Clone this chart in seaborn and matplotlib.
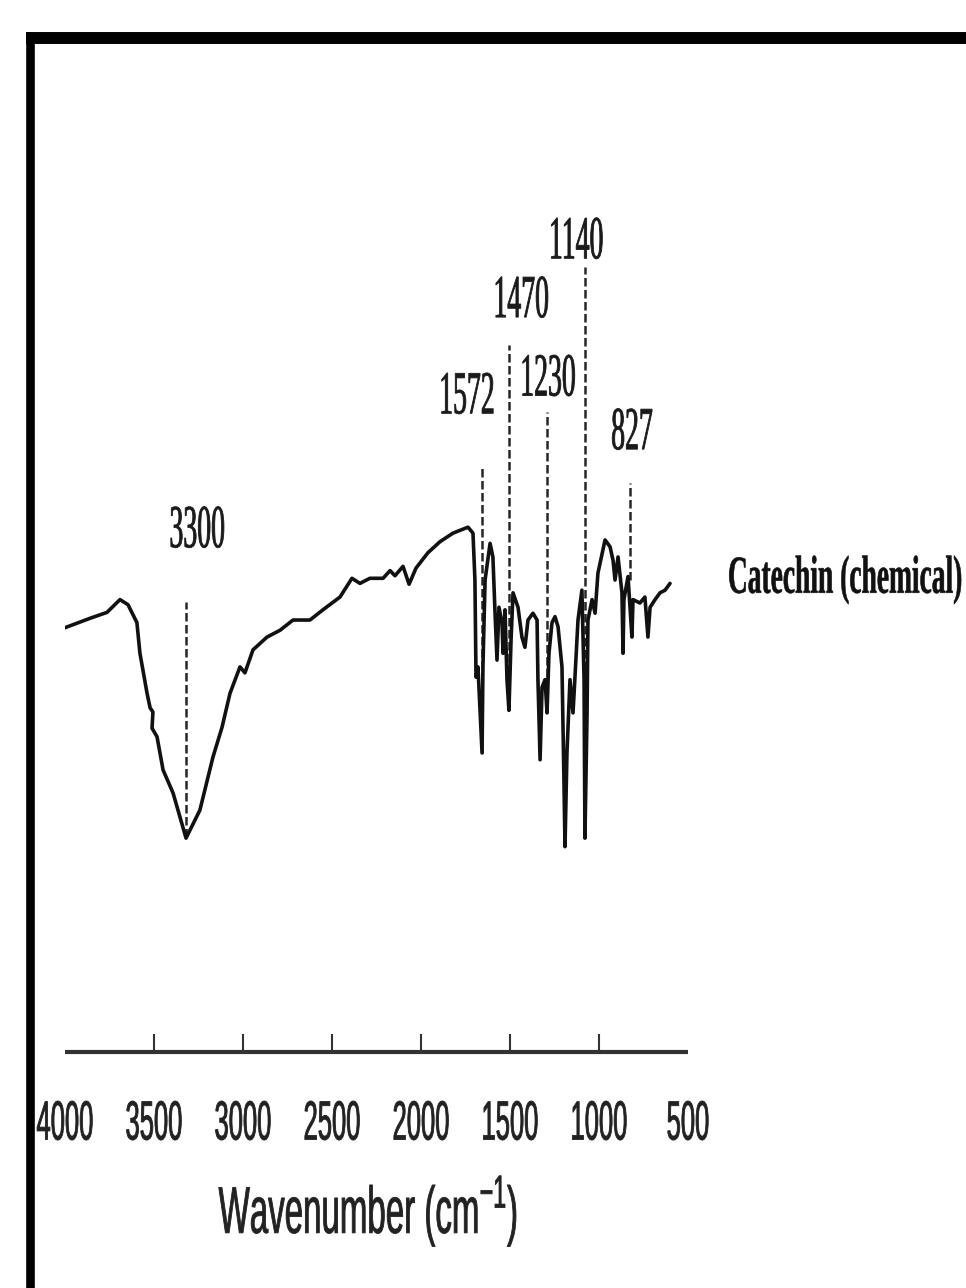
import matplotlib
matplotlib.use("Agg")
import matplotlib.pyplot as plt
import seaborn as sns
import pandas as pd
from matplotlib.lines import Line2D
from matplotlib.patheffects import AbstractPathEffect
from matplotlib.path import Path
from matplotlib.transforms import Affine2D

# ---------------- data ----------------
wavenumber = [
    4000, 3860, 3764, 3691, 3646, 3596, 3579, 3539, 3522, 3506, 3511, 3483,
    3449, 3393, 3320, 3242, 3169, 3118, 3073, 3017, 2989, 2944, 2865, 2792,
    2719, 2624, 2551, 2455, 2388, 2343, 2287, 2213, 2174, 2146, 2101, 2067,
    2028, 1961, 1893, 1820, 1736, 1708,
    1697, 1691, 1680, 1657, 1652, 1640, 1612, 1596, 1584, 1573, 1562, 1545,
    1539, 1528, 1517, 1506, 1494, 1483, 1455, 1433, 1416, 1399, 1371, 1348,
    1343, 1331, 1320, 1303, 1292, 1281, 1264, 1247, 1230, 1208, 1197, 1191,
    1180, 1163, 1146, 1135, 1118, 1096, 1084, 1079, 1067, 1062, 1039, 1022,
    1006, 966, 938, 921, 910, 893, 871, 865, 860, 837, 815, 809, 770, 742,
    725, 713, 685, 657, 629, 601,
]
transmittance = [
    49.8, 50.9, 51.6, 53.1, 52.5, 50.4, 46.8, 42.1, 40.4, 39.9, 38.0, 37.0,
    33.1, 30.4, 25.1, 28.4, 34.6, 38.1, 42.1, 45.2, 44.5, 47.2, 48.7, 49.5,
    50.7, 50.7, 51.9, 53.4, 55.6, 55.0, 55.6, 55.6, 56.5, 55.9, 57.0, 54.9,
    56.8, 58.6, 59.9, 60.9, 61.6, 60.9,
    55.4, 44.0, 45.2, 35.1, 45.2, 55.4, 59.7, 58.1, 51.5, 46.0, 52.2, 50.4,
    46.8, 51.9, 43.7, 40.1, 48.4, 53.9, 52.2, 48.7, 47.5, 50.7, 51.5, 50.7,
    43.7, 34.3, 42.8, 43.7, 39.8, 46.8, 50.4, 51.1, 49.9, 45.2, 31.9, 24.1,
    35.1, 43.7, 39.8, 44.0, 50.7, 54.2, 43.7, 25.1, 39.8, 50.7, 53.1, 51.5,
    56.2, 60.1, 59.3, 57.7, 55.4, 58.1, 53.9, 46.8, 53.1, 55.8, 48.7, 53.1,
    52.7, 53.4, 48.7, 52.2, 53.1, 53.9, 54.2, 55.0,
]

peak_labels = ["3300", "1572", "1470", "1230", "1140", "827"]
peak_pos = [3320, 1657, 1506, 1292, 1079, 826]
peak_top = [52.8, 68.5, 83.0, 75.1, 92.1, 66.8]
peak_bottom = [25.2, 35.1, 40.1, 39.8, 25.1, 55.4]

tick_values = [4000, 3500, 3000, 2500, 2000, 1500, 1000, 500]
tick_labels = [str(v) for v in tick_values]
sample_name = "Catechin (chemical)"
x_title = "Wavenumber (cm$^{\\mathregular{-1}}$)"

# ---------------- layout ----------------
label_x = [3258, 1742, 1438, 1287, 1129, 815]
label_y = [61.3, 77.0, 88.3, 79.1, 95.2, 72.8]


class Stretch(AbstractPathEffect):
    """Draw text glyphs taller (vertical stretch about the ink centre),
    optionally with a thin outline in the text colour to thicken strokes."""

    def __init__(self, sy=2.0, stroke=0.0):
        super().__init__()
        self._sy = sy
        self._stroke = stroke

    def draw_path(self, renderer, gc, tpath, affine, rgbFace=None):
        v = tpath.vertices
        c = tpath.codes
        if c is not None and len(v):
            v = v[c != Path.CLOSEPOLY]
        ymid = 0.5 * (v[:, 1].min() + v[:, 1].max()) if len(v) else 0.0
        t = Affine2D().translate(0, -ymid).scale(1, self._sy).translate(0, ymid)
        gc0 = renderer.new_gc()
        gc0.copy_properties(gc)
        if self._stroke > 0 and rgbFace is not None:
            gc0.set_linewidth(self._stroke)
            gc0.set_foreground(rgbFace)
            gc0.set_joinstyle("round")
        renderer.draw_path(gc0, tpath, t + affine, rgbFace)
        gc0.restore()


sns.set_theme(style="white")
W, H = 966, 1288
fig = plt.figure(figsize=(W / 100, H / 100), dpi=100)
fig.patch.set_facecolor("white")
ax = fig.add_axes([65 / W, (H - 1052) / H, 623 / W, 852 / H])
ax.set_facecolor("white")

df = pd.DataFrame({"wavenumber": wavenumber, "T": transmittance})
sns.lineplot(data=df, x="wavenumber", y="T", sort=False, estimator=None,
             color="#111111", linewidth=2.6, ax=ax)

for p, t, b in zip(peak_pos, peak_top, peak_bottom):
    ax.plot([p, p], [b, t], color="#262626", linewidth=1.8,
            linestyle=(0, (3.4, 1.4)), zorder=1)

for lx, ly, txt in zip(label_x, label_y, peak_labels):
    ax.text(lx, ly, txt, ha="center", va="center", fontsize=20,
            family="Liberation Serif", color="#1a1a1a",
            path_effects=[Stretch(2.2, stroke=0.6)])

ax.text(1.064, 0.554, sample_name, transform=ax.transAxes, ha="left",
        va="center", fontsize=19.8, family="Liberation Serif",
        fontweight="bold", color="#111111", clip_on=False,
        path_effects=[Stretch(1.95, stroke=0.4)])

ax.set_xlim(4000, 500)
ax.set_ylim(0, 100)
ax.set_xticks(tick_values)
ax.set_xticklabels(tick_labels)
ax.set_xticks([500], minor=True)
ax.set_yticks([])
ax.tick_params(axis="x", which="major", direction="in", length=13, width=1.5,
               color="#333333", pad=42, labelsize=18.4, labelcolor="#222222",
               bottom=True)
ax.tick_params(axis="x", which="minor", direction="in", length=21, width=1.5,
               color="#333333", bottom=True)
majors = ax.xaxis.get_major_ticks()
majors[0].tick1line.set_visible(False)
majors[-1].tick1line.set_visible(False)
for lab in ax.get_xticklabels():
    lab.set_family("Liberation Sans")
    lab.set_path_effects([Stretch(2.16, stroke=0.6)])

for s in ["left", "right", "top"]:
    ax.spines[s].set_visible(False)
ax.spines["bottom"].set_linewidth(3)
ax.spines["bottom"].set_color("#333333")
ax.spines["bottom"].set_capstyle("butt")

ax.set_ylabel("")
ax.set_xlabel(x_title, fontsize=23.8, family="Liberation Sans", color="#222222")
ax.xaxis.set_label_coords(0.4864, -0.1866)
ax.xaxis.label.set_va("center")
ax.xaxis.label.set_path_effects([Stretch(2.0, stroke=0.6)])

# thick black frame (left and top only, as cropped in the reference)
fig.add_artist(Line2D([30 / W, 30 / W], [1 - 32 / H, 0], transform=fig.transFigure,
                      color="black", linewidth=6.2, solid_capstyle="butt", zorder=10))
fig.add_artist(Line2D([26 / W, 1], [1 - 38 / H, 1 - 38 / H], transform=fig.transFigure,
                      color="black", linewidth=8.6, solid_capstyle="butt", zorder=10))

fig.savefig("out.png", dpi=100, facecolor="white")
